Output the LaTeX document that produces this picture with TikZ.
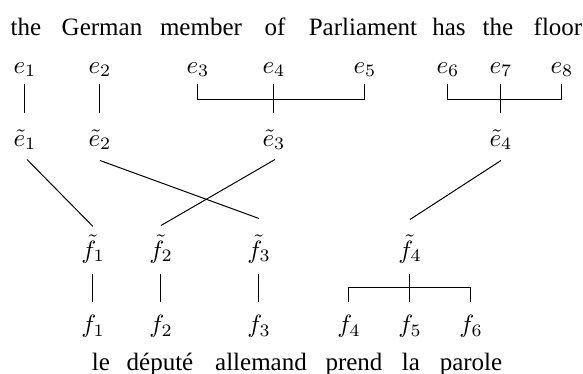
\documentclass[tikz,border=0pt]{standalone}
\usepackage{fontspec}
\setmainfont{Liberation Serif}
\begin{document}
\begin{tikzpicture}[x=0.4pt,y=-0.4pt,
  mnode/.style={inner sep=0pt,anchor=base,text height=7pt,text depth=2pt},
  word/.style={inner sep=0pt,anchor=base,font=\fontsize{10}{12}\selectfont},
  conn/.style={line width=0.4pt}]
\useasboundingbox (0,0) rectangle (583,374);
% English words
\node[word] (w1) at (26,35) {the};
\node[word] (w2) at (102,35) {German};
\node[word] (w3) at (201,35) {member};
\node[word] (w4) at (275,35) {of};
\node[word] (w5) at (363,35) {Parliament};
\node[word] (w6) at (449,35) {has};
\node[word] (w7) at (498,35) {the};
\node[word] (w8) at (558,35) {floor};
% e row
\node[mnode] (e1) at (25,73) {$e_1$};
\node[mnode] (e2) at (100,73) {$e_2$};
\node[mnode] (e3) at (198,73) {$e_3$};
\node[mnode] (e4) at (274,73) {$e_4$};
\node[mnode] (e5) at (365,73) {$e_5$};
\node[mnode] (e6) at (448,73) {$e_6$};
\node[mnode] (e7) at (501,73) {$e_7$};
\node[mnode] (e8) at (562,73) {$e_8$};
% e tilde row
\node[mnode] (te1) at (25,146) {$\tilde{e}_1$};
\node[mnode] (te2) at (100,146) {$\tilde{e}_2$};
\node[mnode] (te3) at (274,146) {$\tilde{e}_3$};
\node[mnode] (te4) at (501,146) {$\tilde{e}_4$};
% f tilde row
\node[mnode] (tf1) at (93,258) {$\tilde{f}_1$};
\node[mnode] (tf2) at (161,258) {$\tilde{f}_2$};
\node[mnode] (tf3) at (259,258) {$\tilde{f}_3$};
\node[mnode] (tf4) at (410,258) {$\tilde{f}_4$};
% f row
\node[mnode] (f1) at (93,333) {$f_1$};
\node[mnode] (f2) at (161,333) {$f_2$};
\node[mnode] (f3) at (259,333) {$f_3$};
\node[mnode] (f4) at (349,333) {$f_4$};
\node[mnode] (f5) at (410,333) {$f_5$};
\node[mnode] (f6) at (471,333) {$f_6$};
% French words
\node[word] (v1) at (101,370) {le};
\node[word] (v2) at (160,370) {député};
\node[word] (v3) at (261,370) {allemand};
\node[word] (v4) at (354,370) {prend};
\node[word] (v5) at (411,370) {la};
\node[word] (v6) at (471,370) {parole};
% e -> e tilde
\draw[conn] ([yshift=-2.2pt]e1.south) -- ([yshift=6.2pt]te1.north);
\draw[conn] ([yshift=-2.2pt]e2.south) -- ([yshift=6.2pt]te2.north);
\draw[conn] ([yshift=-2.2pt]e4.south) -- ([yshift=6.2pt]te3.north);
\draw[conn] ([yshift=-2.2pt]e3.south) -- ++(0,15) -| ([yshift=-2.2pt]e5.south);
\draw[conn] ([yshift=-2.2pt]e7.south) -- ([yshift=6.2pt]te4.north);
\draw[conn] ([yshift=-2.2pt]e6.south) -- ++(0,15) -| ([yshift=-2.2pt]e8.south);
% e tilde -> f tilde
\draw[conn] ([xshift=0.8pt,yshift=-3.2pt]te1.south) -- ([yshift=5.4pt]tf1.north);
\draw[conn] ([yshift=-3.6pt]te2.south) -- ([yshift=8.6pt]tf3.north);
\draw[conn] ([xshift=0.4pt,yshift=-3.2pt]te3.south) -- ([yshift=5.8pt]tf2.north);
\draw[conn] ([yshift=-3.6pt]te4.south) -- ([yshift=8.2pt]tf4.north);
% f tilde -> f
\draw[conn] ([yshift=-4pt]tf1.south) -- ([yshift=5pt]f1.north);
\draw[conn] ([yshift=-4pt]tf2.south) -- ([yshift=5pt]f2.north);
\draw[conn] ([yshift=-4pt]tf3.south) -- ([yshift=5pt]f3.north);
\draw[conn] ([yshift=-4pt]tf4.south) -- ([yshift=5pt]f5.north);
\draw[conn] ([yshift=5pt]f4.north) -- ++(0,-15) -| ([yshift=5pt]f6.north);
\end{tikzpicture}
\end{document}
